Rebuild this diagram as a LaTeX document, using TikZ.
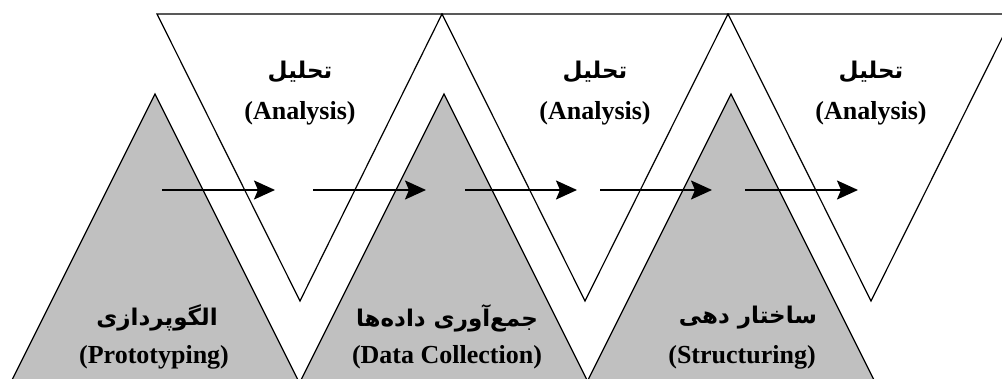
\documentclass[tikz,border=0pt]{standalone}
\usepackage{fontspec}
\setmainfont{Liberation Serif}
\newfontfamily\fafont[Script=Arabic]{DejaVu Sans}
\TeXXeTstate=1
\usetikzlibrary{arrows.meta}
\definecolor{tgray}{RGB}{192,192,192}
\tikzset{
  outline/.style={draw=black, line width=1.2pt, line join=miter},
  grayfill/.style={outline, fill=tgray},
  flow/.style={line width=2pt, -{Stealth[length=21pt,width=19pt,inset=4pt]}},
  enlabel/.style={font=\bfseries\fontsize{26}{28}\selectfont, inner sep=0pt},
  falabel/.style={font=\fafont\bfseries\fontsize{23}{26}\selectfont, inner sep=0pt}
}
\begin{document}
\begin{tikzpicture}[x=1pt,y=-1pt]
\useasboundingbox (0,0) rectangle (1002,379);
\clip (0,0) rectangle (1002,379);
% gray triangles
\filldraw[grayfill] (155,94) -- (300,384) -- (10,384) -- cycle;
\filldraw[grayfill] (444,94) -- (589,384) -- (299,384) -- cycle;
\filldraw[grayfill] (731,94) -- (876,384) -- (586,384) -- cycle;
% inverted triangles
\draw[outline] (157,14) -- (442,14) -- (300,301) -- cycle;
\draw[outline] (442,14) -- (728,14) -- (585,301) -- cycle;
\draw[outline] (728,14) -- (1014,14) -- (871,301) -- cycle;
% arrows
\coordinate (a1s) at (162,190); \coordinate (a1e) at (275,190);
\coordinate (a2s) at (313,190); \coordinate (a2e) at (426,190);
\coordinate (a3s) at (465,190); \coordinate (a3e) at (577,190);
\coordinate (a4s) at (600,190); \coordinate (a4e) at (712,190);
\coordinate (a5s) at (745,190); \coordinate (a5e) at (858,190);
\draw[flow] (a1s) -- (a1e);
\draw[flow] (a2s) -- (a2e);
\draw[flow] (a3s) -- (a3e);
\draw[flow] (a4s) -- (a4e);
\draw[flow] (a5s) -- (a5e);
% analysis labels
\node[falabel] (fa1) at (300,72) {\beginR تحلیل\endR};
\node[enlabel] (en1) at (300,113) {(Analysis)};
\node[falabel] (fa2) at (595,72) {\beginR تحلیل\endR};
\node[enlabel] (en2) at (595,113) {(Analysis)};
\node[falabel] (fa3) at (871,72) {\beginR تحلیل\endR};
\node[enlabel] (en3) at (871,113) {(Analysis)};
% gray labels
\node[falabel] (fb1) at (157,318) {\beginR الگوپردازی\endR};
\node[enlabel] (eb1) at (154,357) {(Prototyping)};
\node[falabel] (fb2) at (447,318) {\beginR جمع‌آوری داده‌ها\endR};
\node[enlabel] (eb2) at (447,357) {(Data Collection)};
\node[falabel] (fb3) at (748,318) {\beginR ساختار دهی\endR};
\node[enlabel] (eb3) at (742,357) {(Structuring)};
\end{tikzpicture}
\end{document}
